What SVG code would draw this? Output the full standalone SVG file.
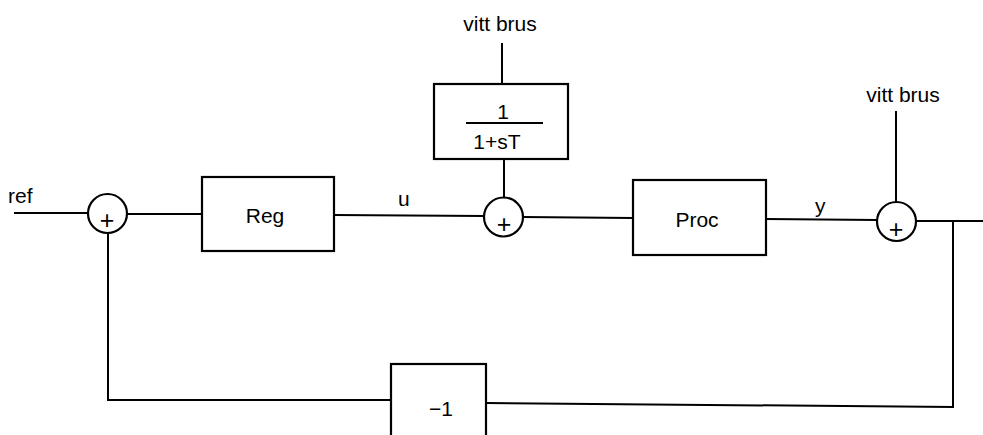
<svg xmlns="http://www.w3.org/2000/svg" width="983" height="435" viewBox="0 0 983 435">
<style>
.ln{fill:none;stroke:#000;stroke-width:2}
.bx{fill:#fff;stroke:#000;stroke-width:2.2}
.sum{fill:#fff;stroke:#000;stroke-width:2.2}
.t{font-family:"Liberation Sans",Arial,sans-serif;font-size:21px;fill:#000}
.c{text-anchor:middle}
.p{font-family:"Liberation Sans",Arial,sans-serif;font-size:25px;fill:#000;text-anchor:middle}
</style>
<rect width="983" height="435" fill="#fff"/>
<g id="connectors">
<line class="ln" x1="14" y1="213" x2="88" y2="213"/>
<line class="ln" x1="127" y1="214" x2="202" y2="214"/>
<line class="ln" x1="334" y1="215" x2="484" y2="216"/>
<line class="ln" x1="523" y1="217" x2="633" y2="218"/>
<line class="ln" x1="766" y1="219" x2="877" y2="220"/>
<line class="ln" x1="916" y1="221" x2="983" y2="221"/>
<line class="ln" x1="502" y1="43" x2="502" y2="84"/>
<line class="ln" x1="504" y1="159" x2="504" y2="197"/>
<line class="ln" x1="896" y1="111" x2="896" y2="202"/>
<polyline class="ln" points="953,221 953,407 486,403"/>
<polyline class="ln" points="391,400 108,400 108,233"/>
<text class="t" x="8" y="203">ref</text>
<text class="t" x="398" y="206">u</text>
<text class="t" x="815" y="213">y</text>
<text class="t c" x="500" y="31">vitt brus</text>
<text class="t c" x="903" y="102">vitt brus</text>
</g>
<g id="sum1">
<circle class="sum" cx="107.5" cy="213.5" r="19.5"/>
<text class="p" x="107" y="229">+</text>
</g>
<g id="reg">
<rect class="bx" x="202" y="177" width="132" height="74"/>
<text class="t c" x="265" y="223">Reg</text>
</g>
<g id="filter">
<rect class="bx" x="434" y="84" width="134" height="75"/>
<text class="t c" x="503" y="119">1</text>
<line class="ln" x1="466" y1="123" x2="543" y2="123"/>
<text class="t c" x="497" y="149">1+sT</text>
</g>
<g id="sum2">
<circle class="sum" cx="503.5" cy="217" r="19.5"/>
<text class="p" x="504" y="233">+</text>
</g>
<g id="proc">
<rect class="bx" x="633" y="180" width="133" height="75"/>
<text class="t c" x="697" y="227">Proc</text>
</g>
<g id="sum3">
<circle class="sum" cx="896.5" cy="221.5" r="19.5"/>
<text class="p" x="896" y="238">+</text>
</g>
<g id="neg">
<rect class="bx" x="391" y="364" width="95" height="80"/>
<text class="t c" x="441" y="416">−1</text>
</g>
</svg>
